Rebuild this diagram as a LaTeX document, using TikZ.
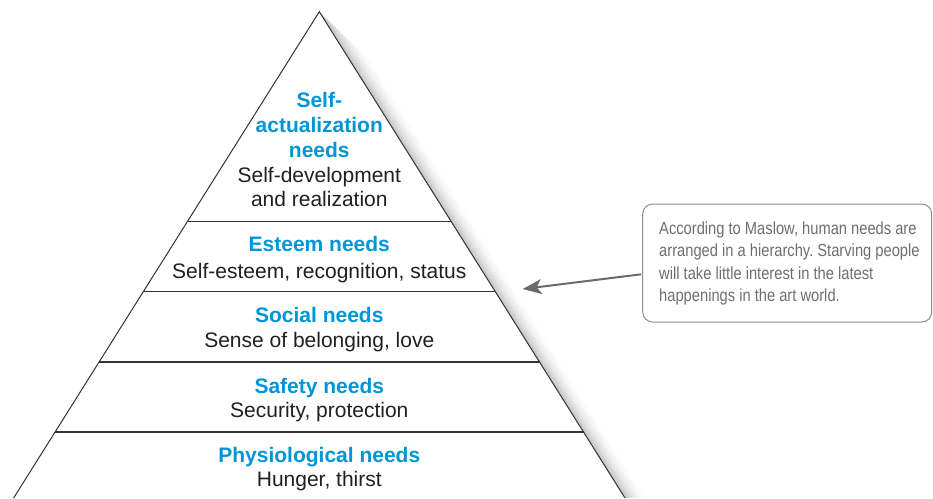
\documentclass[tikz,border=0pt]{standalone}
\usepackage{fontspec}
\setmainfont{Liberation Sans}
\newfontfamily\condfont[FakeStretch=0.84]{Liberation Sans}
\frenchspacing
\usetikzlibrary{calc,arrows.meta}
\definecolor{needblue}{RGB}{0,150,214}
\definecolor{inkblack}{RGB}{35,31,32}
\definecolor{edgegray}{RGB}{51,51,51}
\definecolor{boxgray}{RGB}{140,140,140}
\definecolor{notegray}{RGB}{110,110,110}
\definecolor{arrowgray}{RGB}{105,106,108}
\tikzset{
  title/.style={anchor=base, text=needblue, font=\fontsize{21}{25}\selectfont\bfseries, inner sep=0pt},
  desc/.style={anchor=base, text=inkblack, font=\fontsize{21}{25}\selectfont, inner sep=0pt},
  band/.style={draw=edgegray, line width=1.2pt},
  notebox/.style={draw=boxgray, line width=1pt, rounded corners=10pt, minimum width=289pt, minimum height=118pt},
  notetext/.style={anchor=north west, inner sep=0pt, align=left, text=notegray, font=\condfont\fontsize{17.5}{22.5}\selectfont},
  pointer/.style={draw=arrowgray, line width=2pt, -{Stealth[length=19pt,width=15pt,inset=5pt]}}
}
\begin{document}
\begin{tikzpicture}[x=1pt,y=-1pt]
\useasboundingbox (0,0) rectangle (933,498);
\clip (0,0) rectangle (933,498);
\coordinate (apex) at (319.3,11.7);
\coordinate (bl) at (13.6,498);
\coordinate (br) at (625,498);
% soft shadow on the right side
\foreach \i in {0,...,22}{
  \pgfmathsetmacro{\op}{0.16*(1-\i/23)^2}
  \draw[black, opacity=\op, line width=1.2pt]
    ($(apex)!{0.005*\i}!(br)+(\i,0)$) -- ($(br)+(\i,0)$);
}
% pyramid
\fill[white] (apex) -- (bl) -- (br) -- cycle;
\draw[edgegray, line width=1pt, line join=miter] (bl) -- (apex) -- (br);
\draw[band] ($(apex)!0.4314!(bl)$) -- ($(apex)!0.4314!(br)$);
\draw[band] ($(apex)!0.5754!(bl)$) -- ($(apex)!0.5754!(br)$);
\draw[band] ($(apex)!0.7203!(bl)$) -- ($(apex)!0.7203!(br)$);
\draw[band] ($(apex)!0.8643!(bl)$) -- ($(apex)!0.8643!(br)$);
% texts
\node[title] (sa1) at (319.3,107.3) {Self-};
\node[title] (sa2) at (319.3,132.3) {actualization};
\node[title] (sa3) at (319.3,157.3) {needs};
\node[desc]  (sa4) at (319.3,182.5) {Self-development};
\node[desc]  (sa5) at (319.3,206.7) {and realization};
\node[title] (es1) at (319.3,251.7) {Esteem needs};
\node[desc]  (es2) at (319.3,278.0) {Self-esteem, recognition, status};
\node[title] (so1) at (319.3,322.7) {Social needs};
\node[desc]  (so2) at (319.3,347.7) {Sense of belonging, love};
\node[title] (sf1) at (319.3,393.0) {Safety needs};
\node[desc]  (sf2) at (319.3,417.3) {Security, protection};
\node[title] (ph1) at (319.3,462.3) {Physiological needs};
\node[desc]  (ph2) at (319.3,486.3) {Hunger, thirst};
% note box
\node[notebox] (note) at (787.2,263) {};
\node[notetext] (nt) at (659,221.5) {According to Maslow, human needs are\\arranged in a hierarchy. Starving people\\will take little interest in the latest\\happenings in the art world.};
\coordinate (tip) at (522.7,289);
\draw[pointer] ($(note.west)+(-1,11.3)$) -- (tip);
\end{tikzpicture}
\end{document}
